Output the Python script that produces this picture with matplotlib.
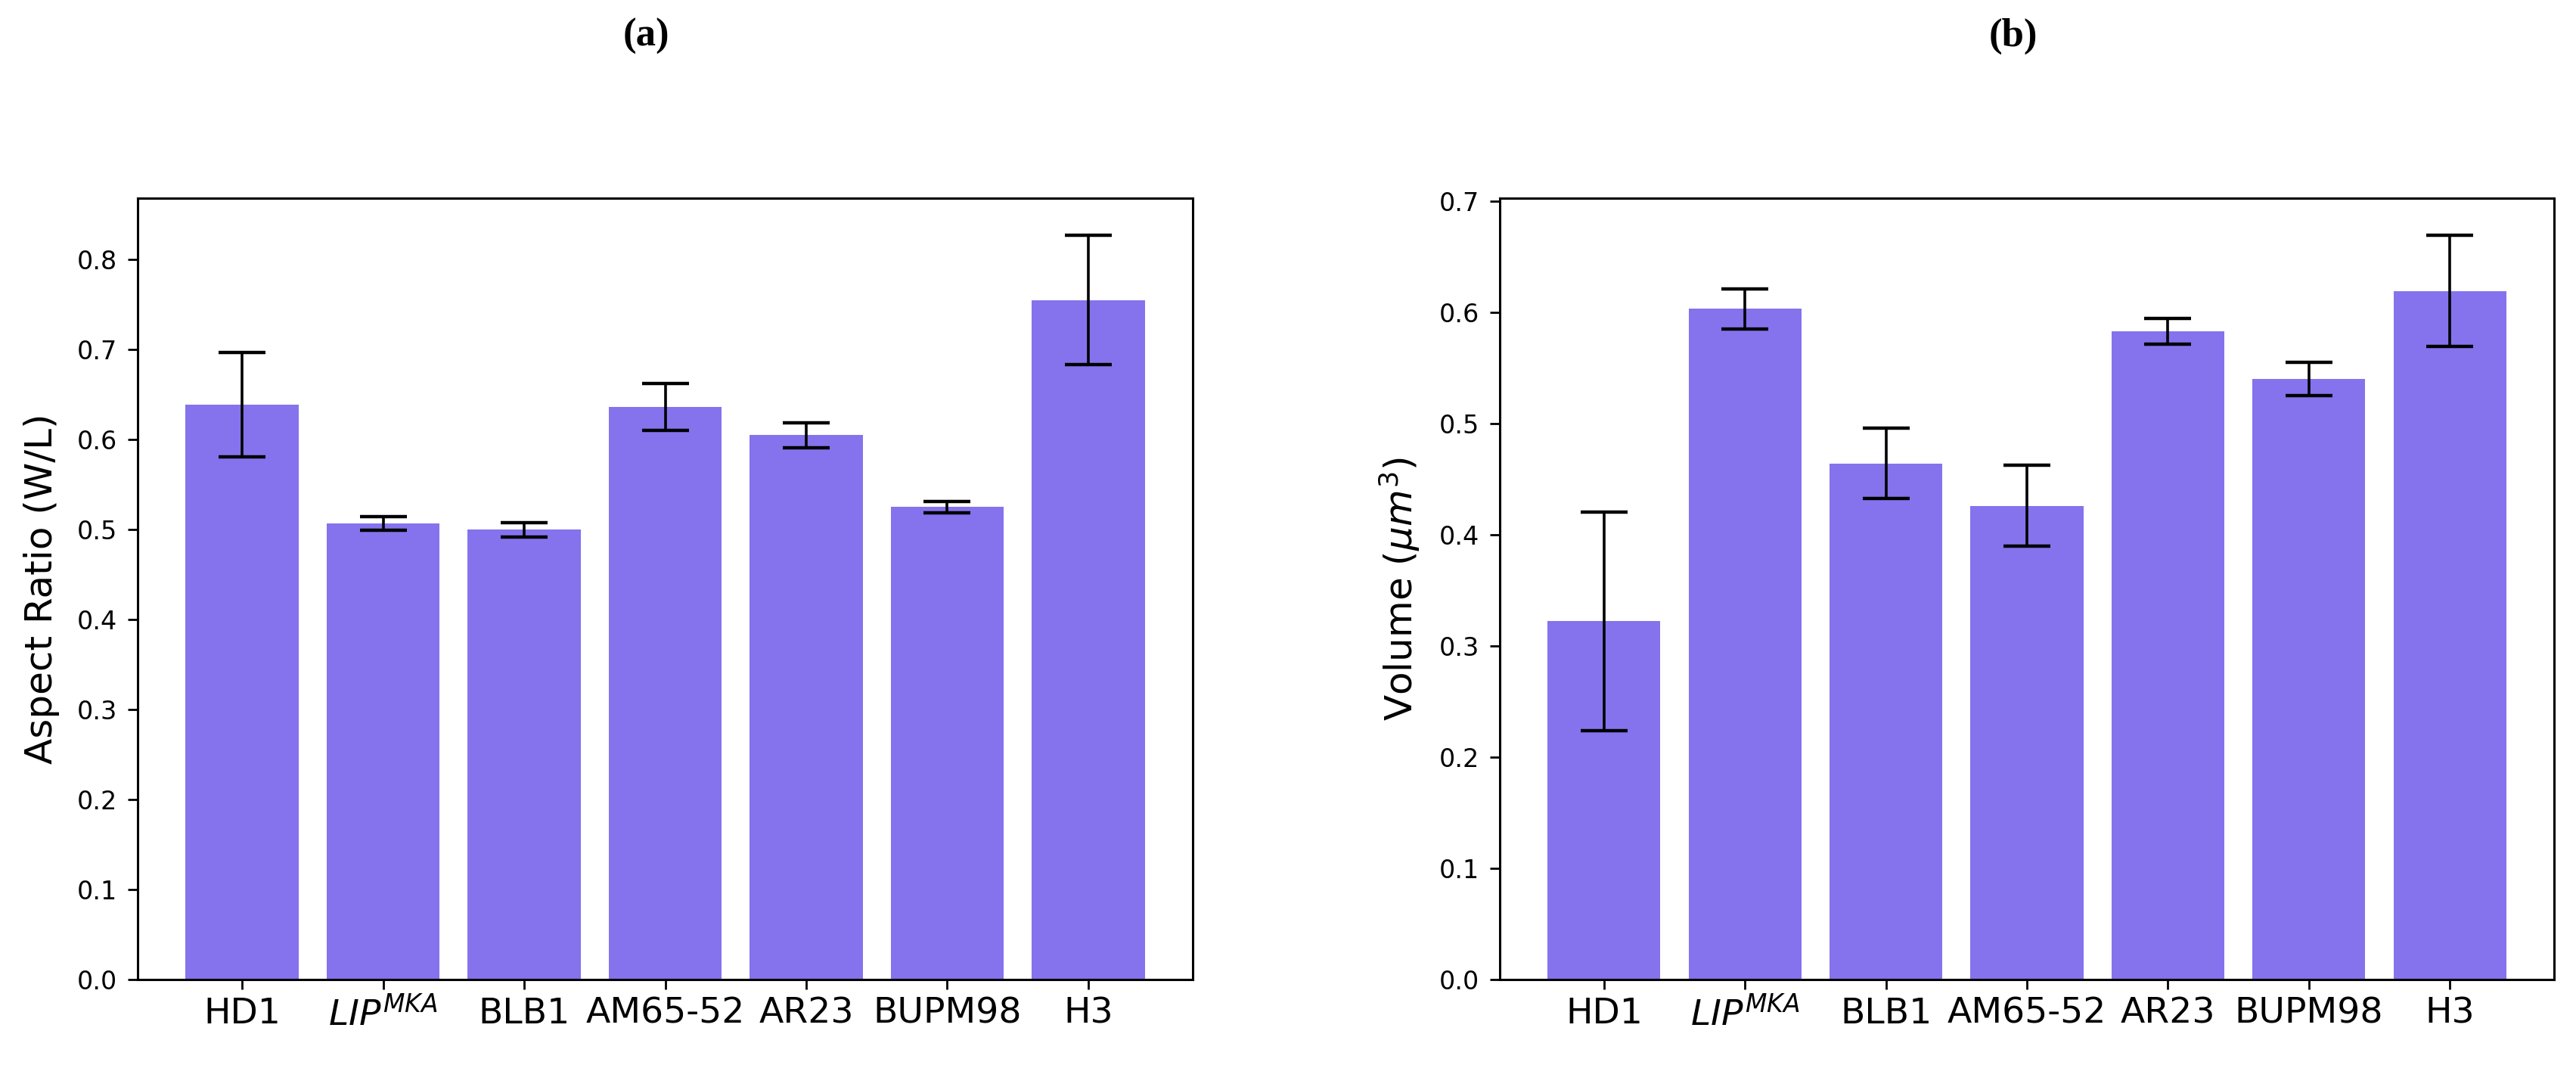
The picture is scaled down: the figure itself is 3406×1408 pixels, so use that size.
import matplotlib
matplotlib.use("Agg")
import matplotlib.pyplot as plt
import numpy as np

categories = ["HD1", r"$LIP^{MKA}$", "BLB1", "AM65-52", "AR23", "BUPM98", "H3"]

aspect_mean = [0.639, 0.507, 0.500, 0.636, 0.605, 0.525, 0.755]
aspect_err = [0.058, 0.0075, 0.008, 0.026, 0.014, 0.0065, 0.072]

volume_mean = [0.322, 0.603, 0.464, 0.426, 0.583, 0.540, 0.619]
volume_err = [0.098, 0.018, 0.0315, 0.0365, 0.0115, 0.015, 0.050]

panel_titles = ["(a)", "(b)"]
ylabels = ["Aspect Ratio (W/L)", r"Volume ($\mu m^3$)"]

W, H, DPI = 3406, 1408, 200
fig = plt.figure(figsize=(W / DPI, H / DPI), dpi=DPI)

bar_color = "#8473ED"
ytick_fs = 12
xtick_fs = 17
label_fs = 18

axes_rects = [
    [182 / W, 113 / H, 1395 / W, 1033 / H],
    [1983 / W, 113 / H, 1394 / W, 1033 / H],
]

datasets = [(aspect_mean, aspect_err), (volume_mean, volume_err)]
title_x = [854 / W, 2662 / W]

for i, (rect, (means, errs)) in enumerate(zip(axes_rects, datasets)):
    ax = fig.add_axes(rect)
    x = np.arange(len(categories))
    ax.bar(x, means, width=0.8, color=bar_color, yerr=errs,
           error_kw=dict(ecolor="black", elinewidth=1.3, capsize=11, capthick=1.6))
    ax.set_xticks(x)
    ax.set_xticklabels(categories, fontsize=xtick_fs)
    ax.tick_params(axis="y", labelsize=ytick_fs, length=4.7, width=1, pad=5)
    ax.tick_params(axis="x", length=4.7, width=1, pad=3.5)
    ax.yaxis.set_major_locator(plt.MultipleLocator(0.1))
    ax.yaxis.set_major_formatter(plt.FormatStrFormatter("%.1f"))
    ax.set_ylabel(ylabels[i], fontsize=label_fs, labelpad=8)
    for sp in ax.spines.values():
        sp.set_linewidth(1.1)
    fig.text(title_x[i], 1 - 48 / H, panel_titles[i], ha="center", va="center",
             fontsize=19, fontweight="bold", family="Liberation Serif")

fig.savefig("out.png", dpi=DPI)
